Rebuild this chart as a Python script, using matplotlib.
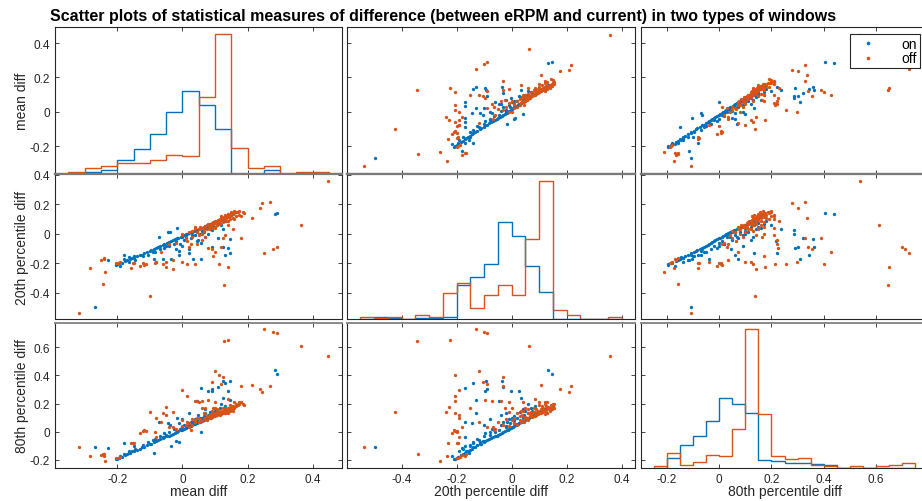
import numpy as np
import matplotlib
matplotlib.use('Agg')
import matplotlib.pyplot as plt
from matplotlib.lines import Line2D
from matplotlib.ticker import FuncFormatter

plt.rcParams['font.family'] = ['Liberation Sans', 'DejaVu Sans']
plt.rcParams['axes.unicode_minus'] = False

# ---------------- data ----------------
group_names = ['on', 'off']
var_names = ['mean diff', '20th percentile diff', '80th percentile diff']

on_mean = [
    -0.267, 0.283, 0.290, -0.228, -0.203, -0.180, -0.180, -0.163, -0.150, -0.071,
    -0.043, -0.038, -0.015, -0.088, -0.035, -0.060, -0.010, -0.020, -0.007, 0.020,
    0.058, 0.032, 0.145, 0.125, 0.132, 0.110, 0.140, 0.080, 0.092, 0.090,
    0.125, 0.147, 0.044, 0.070, 0.020, 0.048, 0.070, 0.000, 0.058, -0.010,
    0.000, -0.200, -0.195, -0.185, -0.175, -0.170, -0.160, -0.155, -0.148, -0.140,
    -0.130, -0.125, -0.118, -0.110, -0.100, -0.095, -0.088, -0.080, -0.075, -0.068,
    -0.060, -0.055, -0.048, -0.042, -0.036, -0.030, -0.024, -0.018, -0.012, -0.005,
    0.000, 0.005, 0.010, 0.015, 0.020, 0.025, 0.030, 0.035, 0.040, 0.045,
    0.050, 0.055, 0.060, 0.065, 0.070, 0.075, 0.080, 0.085, 0.090, 0.095,
    0.100, 0.105, 0.110, 0.115, 0.120, 0.128, 0.135, 0.142, 0.150, 0.155,
    0.012, 0.030, 0.045, 0.060, 0.080, 0.095, 0.110, -0.020, -0.050, -0.090,
    -0.190, -0.165, -0.145, -0.120, -0.105, -0.085, -0.070, -0.055, -0.040, -0.025,
    0.005, 0.025, 0.040, 0.055, 0.065, 0.085, 0.100, 0.115, 0.130, 0.120]

on_p20 = [
    -0.497, 0.133, 0.145, -0.180, -0.210, -0.140, -0.170, -0.155, -0.150, -0.018,
    0.010, 0.013, 0.040, -0.170, -0.170, -0.170, -0.115, -0.105, -0.070, -0.100,
    -0.170, -0.170, -0.035, -0.092, -0.142, -0.030, -0.095, -0.003, 0.028, -0.090,
    0.035, -0.130, -0.046, 0.040, -0.130, -0.040, -0.020, -0.080, -0.060, -0.143,
    -0.020, -0.205, -0.200, -0.195, -0.185, -0.178, -0.170, -0.165, -0.160, -0.152,
    -0.145, -0.140, -0.132, -0.125, -0.115, -0.110, -0.102, -0.095, -0.090, -0.082,
    -0.075, -0.068, -0.062, -0.055, -0.050, -0.042, -0.036, -0.030, -0.025, -0.018,
    -0.012, -0.008, -0.003, 0.002, 0.006, 0.010, 0.015, 0.020, 0.024, 0.028,
    0.033, 0.038, 0.042, 0.048, 0.052, 0.056, 0.062, 0.066, 0.070, 0.075,
    0.080, 0.085, 0.090, 0.095, 0.100, 0.105, 0.112, 0.120, 0.128, 0.132,
    -0.020, -0.005, 0.010, 0.020, 0.045, 0.060, 0.075, -0.045, -0.080, -0.120,
    -0.215, -0.190, -0.175, -0.150, -0.140, -0.125, -0.100, -0.095, -0.080, -0.065,
    -0.040, -0.030, -0.010, 0.000, 0.010, 0.030, 0.050, 0.070, 0.085, 0.060]

on_p80 = [
    -0.109, 0.439, 0.407, -0.115, -0.196, -0.080, -0.160, -0.148, -0.100, 0.068,
    0.060, 0.050, 0.100, -0.152, -0.103, -0.040, -0.070, -0.065, 0.020, 0.045,
    0.310, 0.070, 0.360, 0.362, 0.345, 0.320, 0.290, 0.286, 0.286, 0.300,
    0.237, 0.222, 0.216, 0.160, 0.135, 0.120, 0.130, 0.090, 0.000, 0.060,
    0.030, -0.195, -0.185, -0.180, -0.165, -0.160, -0.150, -0.140, -0.138, -0.130,
    -0.120, -0.110, -0.108, -0.095, -0.088, -0.085, -0.072, -0.068, -0.060, -0.052,
    -0.045, -0.040, -0.030, -0.028, -0.020, -0.015, -0.010, -0.002, 0.004, 0.010,
    0.015, 0.022, 0.025, 0.032, 0.035, 0.042, 0.045, 0.052, 0.058, 0.060,
    0.068, 0.072, 0.078, 0.085, 0.088, 0.095, 0.098, 0.105, 0.110, 0.115,
    0.120, 0.125, 0.132, 0.135, 0.140, 0.148, 0.155, 0.160, 0.165, 0.170,
    0.040, 0.060, 0.080, 0.100, 0.120, 0.135, 0.150, 0.010, -0.020, -0.060,
    -0.170, -0.140, -0.120, -0.095, -0.070, -0.050, -0.030, -0.010, 0.000, 0.020,
    0.050, 0.070, 0.090, 0.100, 0.110, 0.140, 0.150, 0.170, 0.180, 0.200]

off_mean = [
    0.448, 0.363, 0.250, 0.277, 0.290, 0.129, 0.141, 0.100, 0.113, 0.124,
    0.090, 0.120, 0.180, 0.213, 0.237, 0.243, 0.270, -0.100, -0.316, -0.285,
    -0.245, -0.236, -0.250, -0.240, -0.203, -0.197, -0.192, -0.152, -0.148, -0.157,
    -0.130, -0.118, -0.112, -0.122, -0.085, -0.080, -0.060, -0.050, -0.030, -0.080,
    -0.050, 0.000, 0.013, 0.040, 0.046, 0.080, 0.095, 0.050, 0.070, 0.060,
    0.100, 0.100, 0.085, 0.180, 0.160, 0.140, 0.155, 0.130, 0.015, 0.025,
    0.020, -0.030, -0.040, -0.065, 0.000, 0.088, 0.040, -0.240, 0.060, 0.140,
    0.000, 0.020, 0.030, 0.040, 0.050, 0.055, 0.060, 0.065, 0.070, 0.075,
    0.080, 0.085, 0.090, 0.090, 0.095, 0.100, 0.100, 0.105, 0.110, 0.110,
    0.115, 0.120, 0.120, 0.125, 0.125, 0.130, 0.130, 0.135, 0.135, 0.140,
    0.140, 0.145, 0.145, 0.150, 0.150, 0.155, 0.160, 0.165, 0.170, 0.175,
    0.185, 0.190, 0.115, 0.128, 0.138, 0.148, 0.105, 0.095, 0.082, 0.132,
    0.142, 0.152,
    -0.020, 0.010, 0.030, 0.045, 0.065, 0.075, 0.090, 0.105, 0.115, 0.125,
    0.135, 0.145, 0.155, 0.165, 0.175, 0.120, 0.130, 0.140, 0.150, 0.160]

off_p20 = [
    0.357, 0.063, -0.129, -0.102, -0.090, -0.345, -0.225, -0.120, -0.207, -0.030,
    -0.105, -0.090, -0.030, 0.105, 0.175, 0.208, 0.217, -0.423, -0.538, -0.233,
    -0.339, -0.260, -0.180, -0.165, -0.200, -0.195, -0.188, -0.200, -0.195, -0.230,
    -0.215, -0.210, -0.205, -0.200, -0.200, -0.190, -0.205, -0.190, -0.240, -0.190,
    -0.226, -0.190, -0.205, -0.206, -0.070, -0.095, -0.150, -0.010, -0.023, 0.000,
    0.040, 0.050, 0.036, 0.120, 0.100, 0.085, 0.033, -0.010, -0.050, -0.065,
    -0.090, -0.180, -0.068, -0.120, 0.000, 0.055, 0.045, -0.170, -0.040, 0.060,
    -0.010, 0.010, 0.020, 0.030, 0.035, 0.045, 0.040, 0.050, 0.055, 0.060,
    0.065, 0.060, 0.075, 0.070, 0.080, 0.085, 0.075, 0.090, 0.095, 0.085,
    0.100, 0.105, 0.095, 0.110, 0.100, 0.115, 0.105, 0.120, 0.110, 0.125,
    0.115, 0.130, 0.120, 0.135, 0.125, 0.140, 0.145, 0.150, 0.150, 0.155,
    0.150, 0.143, 0.090, 0.112, 0.122, 0.132, 0.080, 0.070, 0.050, 0.100,
    0.127, 0.138,
    -0.060, -0.030, -0.020, 0.010, 0.020, 0.030, 0.040, 0.060, 0.070, 0.080,
    0.090, 0.100, 0.110, 0.120, 0.130, 0.120, 0.128, 0.138, 0.148, 0.155]

off_p80 = [
    0.540, 0.612, 0.728, 0.711, 0.699, 0.645, 0.652, 0.430, 0.400, 0.390,
    0.356, 0.340, 0.327, 0.335, 0.300, 0.280, 0.327, 0.137, -0.109, -0.173,
    -0.160, -0.210, -0.165, -0.160, -0.190, -0.185, -0.180, -0.078, -0.082, -0.080,
    -0.010, 0.012, 0.005, 0.008, 0.000, -0.040, 0.130, 0.120, 0.140, 0.100,
    0.176, 0.297, 0.256, 0.215, 0.220, 0.225, 0.170, 0.210, 0.165, 0.170,
    0.210, 0.170, 0.120, 0.210, 0.210, 0.230, 0.150, 0.140, 0.066, 0.010,
    0.030, 0.035, 0.035, 0.070, 0.080, 0.100, 0.070, -0.170, 0.220, 0.130,
    0.040, 0.060, 0.050, 0.080, 0.070, 0.090, 0.075, 0.100, 0.090, 0.085,
    0.110, 0.095, 0.105, 0.120, 0.110, 0.115, 0.130, 0.120, 0.125, 0.140,
    0.130, 0.135, 0.150, 0.140, 0.130, 0.145, 0.160, 0.150, 0.140, 0.155,
    0.170, 0.160, 0.150, 0.165, 0.180, 0.170, 0.175, 0.185, 0.190, 0.200,
    0.200, 0.190, 0.120, 0.150, 0.145, 0.172, 0.140, 0.125, 0.105, 0.135,
    0.165, 0.160,
    0.020, 0.050, 0.090, 0.100, 0.130, 0.110, 0.150, 0.160, 0.140, 0.170,
    0.160, 0.190, 0.180, 0.200, 0.210, 0.125, 0.135, 0.148, 0.158, 0.168]

# histogram (diagonal) bin edges and relative frequencies (%)
mean_edges = [-0.35, -0.30, -0.25, -0.20, -0.15, -0.10, -0.05, 0.00, 0.05,
              0.10, 0.15, 0.20, 0.25, 0.30, 0.35, 0.40, 0.45]
mean_hist_on = [0, 0.4, 1.0, 4.0, 7.1, 11.5, 17.9, 24.0, 20.0, 13.1, 0, 0, 1.0, 0, 0, 0]
mean_hist_off = [0.5, 1.6, 2.1, 3.0, 3.0, 3.9, 5.4, 5.0, 22.3, 40.7, 7.5, 1.6, 2.1, 0, 0.5, 0.5]

p20_edges = [-0.55, -0.50, -0.45, -0.40, -0.35, -0.30, -0.25, -0.20, -0.15, -0.10,
             -0.05, 0.00, 0.05, 0.10, 0.15, 0.20, 0.25, 0.30, 0.35, 0.40]
p20_hist_on = [0, 0.4, 0.25, 0, 0.17, 0.17, 0.4, 8.5, 10.5, 13.9,
               24.5, 21.0, 13.5, 6.8, 0, 0, 0, 0, 0]
p20_hist_off = [0.4, 0.2, 0.4, 0, 0.9, 0.4, 6.5, 9.0, 2.9, 6.1,
                8.5, 6.0, 20.2, 34.8, 2.4, 1.0, 0, 0, 0.4]

p80_edges = [-0.25, -0.20, -0.15, -0.10, -0.05, 0.00, 0.05, 0.10, 0.15, 0.20, 0.25,
             0.30, 0.35, 0.40, 0.45, 0.50, 0.55, 0.60, 0.65, 0.70, 0.75]
p80_hist_on = [0, 3.0, 6.9, 9.7, 14.1, 21.2, 19.2, 16.6, 2.4, 2.0,
               1.4, 1.4, 1.2, 0.9, 0, 0, 0, 0, 0, 0]
p80_hist_off = [0.6, 4.4, 1.0, 1.9, 4.0, 3.6, 11.9, 41.8, 16.3, 3.6,
                2.7, 2.9, 1.0, 0.6, 0, 0.6, 0, 0.6, 1.0, 1.4]

assert len(on_mean) == len(on_p20) == len(on_p80)
assert len(off_mean) == len(off_p20) == len(off_p80)

# ---------------- style / layout ----------------
colors = ['#0072BD', '#D95319']
axcol = '#262626'
W, H = 922, 502
col_px = [(55, 342), (347, 635), (641, 928)]
row_px = [(28, 174.5), (175.5, 320), (323.5, 469)]
var_lims = [(-0.391, 0.490), (-0.598, 0.448), (-0.300, 0.800)]
row_lims = [(-0.360, 0.494), (-0.577, 0.403), (-0.258, 0.776)]
ticks = [[-0.2, 0, 0.2, 0.4], [-0.4, -0.2, 0, 0.2, 0.4], [-0.2, 0, 0.2, 0.4, 0.6]]

on_vars = [on_mean, on_p20, on_p80]
off_vars = [off_mean, off_p20, off_p80]
hist_edges = [mean_edges, p20_edges, p80_edges]
hist_on = [mean_hist_on, p20_hist_on, p80_hist_on]
hist_off = [mean_hist_off, p20_hist_off, p80_hist_off]

fmt = FuncFormatter(lambda v, p: f'{v:g}')

fig = plt.figure(figsize=(W / 100, H / 100), dpi=100)
fig.patch.set_facecolor('white')

for r in range(3):
    for c in range(3):
        x0, x1 = col_px[c]
        y0, y1 = row_px[r]
        ax = fig.add_axes([x0 / W, 1 - y1 / H, (x1 - x0) / W, (y1 - y0) / H])
        ax.set_xlim(*var_lims[c])
        ax.set_ylim(*row_lims[r])
        ax.set_xticks(ticks[c])
        ax.set_yticks(ticks[r])
        ax.xaxis.set_major_formatter(fmt)
        ax.yaxis.set_major_formatter(fmt)
        ax.tick_params(direction='in', length=3, width=0.6, colors=axcol,
                       top=True, right=True, labelsize=8.5,
                       labelbottom=(r == 2), labelleft=(c == 0), pad=3.5)
        for s in ax.spines.values():
            s.set_color(axcol)
            s.set_linewidth(0.8)
        if r == 0:
            ax.spines['bottom'].set_color('#7a7a7a')
            ax.spines['bottom'].set_linewidth(1.6)
        if r == 1:
            ax.spines['top'].set_color('#7a7a7a')
            ax.spines['top'].set_linewidth(1.6)
        if r == 2:
            ax.spines['top'].set_color('#8a8a8a')
            ax.spines['top'].set_linewidth(1.4)
        if r == c:
            hax = ax.twinx()
            e = hist_edges[c]
            top = max(max(hist_on[c]), max(hist_off[c])) * 1.05
            hax.stairs(hist_on[c], e, baseline=0, color=colors[0], lw=1.0)
            hax.stairs(hist_off[c], e, baseline=0, color=colors[1], lw=1.0)
            hax.set_ylim(0, top)
            hax.set_yticks([])
            for s in hax.spines.values():
                s.set_visible(False)
        else:
            for g, gv in enumerate([on_vars, off_vars]):
                ax.plot(gv[c], gv[r], linestyle='none', marker='o',
                        markersize=2.4, markeredgewidth=0, color=colors[g])

# axis labels
for i, name in enumerate(var_names):
    yc = (row_px[i][0] + row_px[i][1]) / 2
    fig.text(22 / W, 1 - yc / H, name, rotation=90, ha='center', va='center',
             fontsize=10, color=axcol)
    xc = (col_px[i][0] + col_px[i][1]) / 2
    fig.text(xc / W, 1 - 492 / H, name, ha='center', va='center',
             fontsize=10, color=axcol)

fig.text(443 / W, 1 - 16 / H,
         'Scatter plots of statistical measures of difference (between eRPM and current) in two types of windows',
         ha='center', va='center', fontsize=11.5, fontweight='bold', color='black')

handles = [Line2D([], [], linestyle='none', marker='o', markersize=2.6,
                  markeredgewidth=0, color=colors[g]) for g in range(2)]
leg = fig.legend(handles, group_names, loc='upper left',
                 bbox_to_anchor=(850 / W, 1 - 35 / H), frameon=True, fancybox=False,
                 edgecolor=axcol, framealpha=1, fontsize=10, borderpad=0.2,
                 handlelength=2.2, handletextpad=1.3, labelspacing=0.05,
                 borderaxespad=0)
leg.get_frame().set_linewidth(0.8)

fig.savefig('out.png', dpi=100, facecolor='white')
